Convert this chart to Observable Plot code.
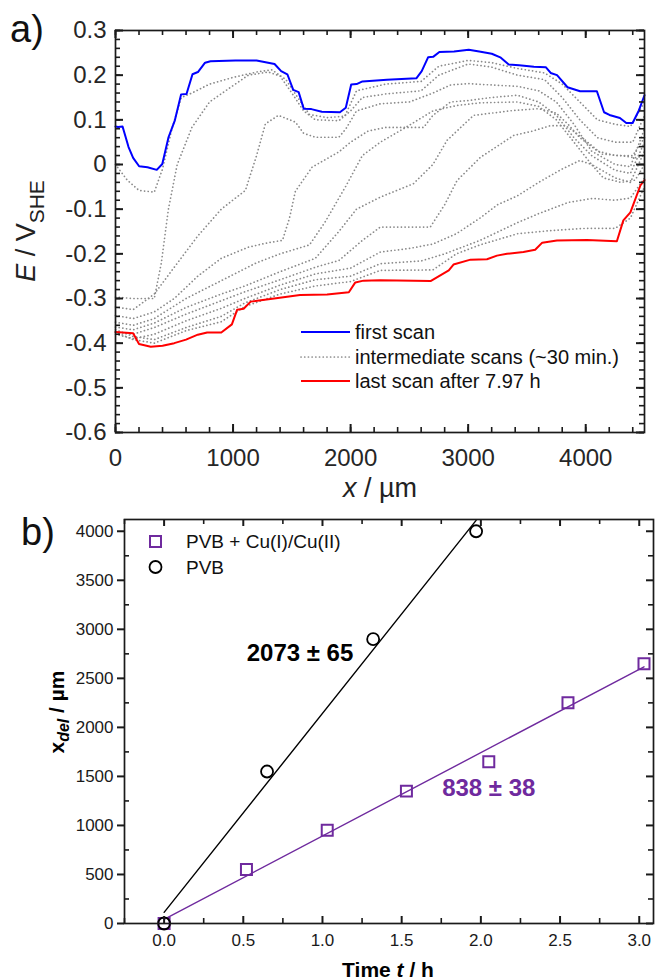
<!DOCTYPE html>
<html><head><meta charset="utf-8">
<script src="https://cdn.jsdelivr.net/npm/d3@7"></script>
<script src="https://cdn.jsdelivr.net/npm/@observablehq/plot@0.6"></script>
<style>
html,body{margin:0;padding:0;background:#fff;overflow:hidden}
#wrap{position:relative;width:655px;height:980px;overflow:hidden;background:#fff}
</style></head>
<body><div id="wrap"></div>
<script>
// ---------- Panel a data: x (µm), E (V vs SHE) ----------
const firstScan = [[0,0.085],[22,0.084],[60,0.085],[111,0.039],[150,0.015],[201,-0.004],[272,-0.006],[351,-0.012],[398,0.001],[451,0.061],[505,0.099],[558,0.157],[604,0.158],[655,0.202],[701,0.207],[762,0.228],[808,0.231],[1020,0.233],[1200,0.233],[1353,0.225],[1409,0.209],[1462,0.202],[1512,0.167],[1558,0.162],[1601,0.125],[1666,0.124],[1755,0.118],[1909,0.117],[1959,0.127],[2005,0.179],[2051,0.18],[2101,0.186],[2309,0.19],[2559,0.193],[2605,0.209],[2659,0.24],[2702,0.241],[2755,0.252],[2880,0.253],[3005,0.257],[3094,0.253],[3201,0.248],[3273,0.24],[3345,0.224],[3434,0.222],[3559,0.219],[3660,0.218],[3702,0.205],[3756,0.2],[3845,0.173],[3952,0.164],[4095,0.164],[4156,0.117],[4202,0.111],[4291,0.104],[4345,0.093],[4399,0.093],[4452,0.121],[4500,0.155]];

const lastScan = [[0,-0.375],[150,-0.378],[200,-0.402],[300,-0.408],[400,-0.406],[500,-0.4],[600,-0.392],[700,-0.381],[780,-0.376],[900,-0.376],[990,-0.358],[1035,-0.325],[1090,-0.323],[1150,-0.307],[1205,-0.305],[1350,-0.3],[1570,-0.292],[1800,-0.291],[1985,-0.286],[2040,-0.264],[2110,-0.26],[2250,-0.259],[2680,-0.261],[2835,-0.237],[2875,-0.224],[3020,-0.213],[3160,-0.212],[3245,-0.204],[3330,-0.2],[3470,-0.196],[3570,-0.191],[3630,-0.175],[3755,-0.17],[4010,-0.169],[4265,-0.172],[4320,-0.125],[4380,-0.107],[4465,-0.047],[4500,-0.035]];

const scan2 = [[0,0.0],[100,-0.035],[200,-0.058],[330,-0.062],[400,-0.01],[480,0.08],[560,0.15],[650,0.16],[800,0.18],[1000,0.195],[1200,0.207],[1330,0.212],[1450,0.19],[1550,0.15],[1650,0.112],[1800,0.105],[1950,0.108],[2050,0.165],[2300,0.18],[2600,0.186],[2750,0.22],[3000,0.233],[3200,0.228],[3420,0.215],[3650,0.205],[3800,0.18],[3950,0.14],[4100,0.1],[4250,0.09],[4380,0.085],[4500,0.14]];
const scan3 = [[0,-0.297],[150,-0.3],[330,-0.3],[390,-0.22],[450,-0.1],[525,0.0],[650,0.083],[800,0.14],[980,0.173],[1130,0.2],[1300,0.207],[1400,0.198],[1500,0.16],[1600,0.12],[1700,0.1],[1900,0.098],[2000,0.12],[2100,0.15],[2300,0.158],[2600,0.165],[2750,0.2],[3000,0.225],[3200,0.218],[3420,0.2],[3650,0.19],[3800,0.15],[3950,0.1],[4100,0.06],[4250,0.05],[4400,0.05],[4500,0.11]];
const scan4 = [[0,-0.319],[150,-0.325],[330,-0.29],[500,-0.23],[700,-0.16],[900,-0.1],[1105,-0.058],[1200,0.02],[1275,0.091],[1386,0.11],[1530,0.095],[1600,0.07],[1700,0.061],[1900,0.061],[1960,0.08],[2050,0.12],[2253,0.136],[2500,0.14],[2700,0.16],[2850,0.178],[3000,0.181],[3200,0.178],[3420,0.175],[3600,0.165],[3750,0.14],[3900,0.09],[4050,0.03],[4250,0.0],[4380,-0.005],[4500,0.08]];
const scan5 = [[0,-0.338],[150,-0.345],[330,-0.33],[500,-0.3],[700,-0.25],[900,-0.21],[1131,-0.185],[1300,-0.175],[1420,-0.17],[1480,-0.12],[1530,-0.06],[1672,-0.006],[1899,0.028],[2000,0.05],[2150,0.075],[2296,0.083],[2450,0.083],[2621,0.083],[2700,0.11],[2850,0.14],[3000,0.143],[3200,0.15],[3420,0.155],[3600,0.14],[3750,0.11],[3900,0.06],[4050,0.02],[4250,-0.013],[4380,-0.02],[4500,0.05]];
const scan6 = [[0,-0.353],[150,-0.36],[330,-0.345],[600,-0.3],[900,-0.26],[1200,-0.22],[1400,-0.2],[1650,-0.18],[1780,-0.13],[1956,-0.05],[2100,0.02],[2253,0.05],[2450,0.08],[2700,0.12],[2900,0.132],[3100,0.138],[3420,0.14],[3600,0.13],[3750,0.1],[3900,0.05],[4050,0.0],[4250,-0.03],[4380,-0.04],[4500,0.03]];
const scan7 = [[0,-0.364],[150,-0.37],[330,-0.355],[600,-0.32],[900,-0.29],[1100,-0.272],[1400,-0.24],[1700,-0.21],[1900,-0.15],[2050,-0.1],[2253,-0.073],[2534,-0.043],[2700,0.0],[2820,0.054],[3046,0.11],[3387,0.121],[3600,0.125],[3750,0.115],[3850,0.09],[3950,0.06],[4100,0.03],[4250,0.02],[4400,0.02],[4500,0.06]];
const scan8 = [[0,-0.375],[150,-0.38],[330,-0.365],[600,-0.335],[900,-0.305],[1100,-0.285],[1400,-0.258],[1700,-0.23],[1900,-0.215],[2100,-0.17],[2253,-0.14],[2678,-0.14],[2800,-0.09],[2905,-0.036],[3104,0.016],[3387,0.065],[3550,0.075],[3700,0.087],[3830,0.087],[3970,0.06],[4140,0.023],[4300,0.02],[4420,0.015],[4500,0.02]];
const scan9 = [[0,-0.38],[150,-0.39],[330,-0.38],[600,-0.35],[900,-0.322],[1100,-0.3],[1400,-0.27],[1700,-0.245],[2000,-0.232],[2253,-0.196],[2500,-0.188],[2700,-0.178],[2900,-0.155],[3100,-0.12],[3250,-0.09],[3420,-0.07],[3600,-0.04],[3800,-0.01],[3950,0.009],[4050,0.0],[4150,-0.03],[4300,-0.04],[4420,-0.035],[4500,0.0]];
const scan10 = [[0,-0.37],[150,-0.385],[330,-0.392],[600,-0.365],[900,-0.34],[1100,-0.31],[1400,-0.28],[1700,-0.258],[2000,-0.25],[2253,-0.222],[2600,-0.216],[2800,-0.2],[3100,-0.17],[3420,-0.13],[3600,-0.11],[3850,-0.085],[4056,-0.076],[4250,-0.08],[4380,-0.075],[4500,-0.03]];
const scan11 = [[0,-0.375],[150,-0.392],[330,-0.4],[600,-0.372],[900,-0.352],[1100,-0.318],[1400,-0.29],[1700,-0.272],[2000,-0.262],[2253,-0.237],[2700,-0.236],[2900,-0.2],[3100,-0.18],[3420,-0.155],[3700,-0.148],[4000,-0.143],[4250,-0.143],[4380,-0.12],[4500,-0.05]];
const intermediateScans = [scan2, scan3, scan4, scan5, scan6, scan7, scan8, scan9, scan10, scan11];

const xTicksA = [0, 1000, 2000, 3000, 4000];
const xMinorA = d3.range(0, 4501, 200);
const yTicksA = [-0.6, -0.5, -0.4, -0.3, -0.2, -0.1, 0, 0.1, 0.2, 0.3];
const yMinorA = d3.range(-0.6, 0.3001, 0.02);
const legendA = ["first scan", "intermediate scans (~30 min.)", "last scan after 7.97 h"];

// ---------- Panel b data: time t (h), delamination x_del (µm) ----------
const timePVB = [0, 0.65, 1.32, 1.97];
const xdelPVB = [0, 1550, 2900, 4000];
const timeCu = [0, 0.52, 1.03, 1.53, 2.05, 2.55, 3.03];
const xdelCu = [0, 550, 950, 1350, 1650, 2250, 2650];
const rateLabels = ["2073 ± 65", "838 ± 38"];
const rateLabelT = [0.858, 2.05];
const rateLabelX = [2758, 1380];
const xTicksB = [0, 0.5, 1, 1.5, 2, 2.5, 3];
const xMinorB = [-0.25, 0.25, 0.75, 1.25, 1.75, 2.25, 2.75];
const yTicksB = d3.range(0, 4001, 500);
const yMinorB = d3.range(250, 4001, 500);
const legendB = ["PVB + Cu(I)/Cu(II)", "PVB"];

const PURPLE = "#6f2a9e";
const FONT = "'Liberation Sans', Arial, Helvetica, sans-serif";
const minusFmt = d => d === 0 ? "0" : (d < 0 ? "-" : "") + Math.abs(d).toFixed(1);

const toRows = (arr, name) => arr.map(([x, E]) => ({x, E, scan: name}));
const intermRows = intermediateScans.flatMap((s, i) => toRows(s, "s" + i));
const firstRows = toRows(firstScan, "first");
const lastRows = toRows(lastScan, "last");

const AX = "#1a1a1a";

// tick helpers (short rules hugging the frame)
function ticksX(values, len, fh, side, outward = false, w = 2) {
  const o = {x: d => d, stroke: AX, strokeWidth: w};
  if (side === "bottom") { o.insetTop = fh - len; if (outward) o.dy = len; }
  else { o.insetBottom = fh - len; if (outward) o.dy = -len; }
  return Plot.ruleX(values, o);
}
function ticksY(values, len, fw, side, outward = false, w = 2) {
  const o = {y: d => d, stroke: AX, strokeWidth: w};
  if (side === "left") { o.insetRight = fw - len; if (outward) o.dx = -len; }
  else { o.insetLeft = fw - len; if (outward) o.dx = len; }
  return Plot.ruleY(values, o);
}

const A = {w: 655, h: 505, ml: 115, mr: 11, mt: 30, mb: 73};
const fwA = A.w - A.ml - A.mr, fhA = A.h - A.mt - A.mb;

const plotA = Plot.plot({
  width: A.w, height: A.h,
  marginLeft: A.ml, marginRight: A.mr, marginTop: A.mt, marginBottom: A.mb,
  x: {domain: [0, 4500], axis: null},
  y: {domain: [-0.6, 0.3], axis: null},
  style: {fontFamily: FONT, fontSize: "24px", color: "#262626", background: "transparent", overflow: "visible"},
  marks: [
    Plot.line(intermRows, {x: "x", y: "E", z: "scan", stroke: "#8a8a8a", strokeWidth: 1.7, strokeDasharray: "0.1 3.6", strokeLinecap: "round"}),
    Plot.line(lastRows, {x: "x", y: "E", stroke: "#ff0000", strokeWidth: 2}),
    Plot.line(firstRows, {x: "x", y: "E", stroke: "#0000ff", strokeWidth: 2}),
    ticksX(xTicksA, 8, fhA, "bottom"), ticksX(xMinorA, 5, fhA, "bottom", false, 1.6),
    ticksX(xTicksA, 8, fhA, "top"), ticksX(xMinorA, 5, fhA, "top", false, 1.6),
    ticksY(yTicksA, 8, fwA, "left"), ticksY(yMinorA, 5, fwA, "left", false, 1.6),
    ticksY(yTicksA, 8, fwA, "right"), ticksY(yMinorA, 5, fwA, "right", false, 1.6),
    Plot.axisX({anchor: "bottom", ticks: xTicksA, tickSize: 0, tickPadding: 16, tickFormat: d => String(d), label: null}),
    Plot.axisY({anchor: "left", ticks: yTicksA, tickSize: 0, tickPadding: 9, tickFormat: minusFmt, label: null}),
    Plot.frame({stroke: AX, strokeWidth: 1.7})
  ]
});

const pvbRows = timePVB.map((t, i) => ({t, x: xdelPVB[i]}));
const cuRows = timeCu.map((t, i) => ({t, x: xdelCu[i]}));
const annRows = rateLabels.map((text, i) => ({text, t: rateLabelT[i], x: rateLabelX[i], c: i === 0 ? "#000" : PURPLE}));

const B = {w: 655, h: 475, ml: 124, mr: 2, mt: 14, mb: 57};
const fwB = B.w - B.ml - B.mr, fhB = B.h - B.mt - B.mb;

const plotB = Plot.plot({
  width: B.w, height: B.h,
  marginLeft: B.ml, marginRight: B.mr, marginTop: B.mt, marginBottom: B.mb,
  x: {domain: [-0.25, 3.09], axis: null},
  y: {domain: [0, 4120], axis: null},
  style: {fontFamily: FONT, fontSize: "17px", color: "#1a1a1a", background: "transparent", overflow: "visible"},
  marks: [
    Plot.linearRegressionY(pvbRows, {x: "t", y: "x", stroke: "#000", strokeWidth: 1.4, ci: 0, clip: true}),
    Plot.linearRegressionY(cuRows, {x: "t", y: "x", stroke: PURPLE, strokeWidth: 1.4, ci: 0}),
    Plot.dot(cuRows, {x: "t", y: "x", symbol: "square", r: 6.2, stroke: PURPLE, strokeWidth: 2, fill: "none"}),
    Plot.dot(pvbRows, {x: "t", y: "x", r: 6, stroke: "#000", strokeWidth: 1.8, fill: "none"}),
    Plot.text(annRows, {x: "t", y: "x", text: "text", fill: "c", fontWeight: "bold", fontSize: 24, fontFamily: FONT}),
    ticksX(xTicksB, 7, fhB, "bottom"), ticksX(xMinorB, 5, fhB, "bottom", false, 1.6),
    ticksX(xTicksB, 7, fhB, "top"), ticksX(xMinorB, 5, fhB, "top", false, 1.6),
    ticksY(yTicksB, 7, fwB, "left", true), ticksY(yMinorB, 5, fwB, "left", false, 1.6),
    ticksY(yTicksB, 7, fwB, "right"), ticksY(yMinorB, 5, fwB, "right", false, 1.6),
    Plot.axisX({anchor: "bottom", ticks: xTicksB, tickSize: 0, tickPadding: 10, tickFormat: d => d.toFixed(1), label: null}),
    Plot.axisY({anchor: "left", ticks: yTicksB, tickSize: 0, tickPadding: 11, tickFormat: d => String(d), label: null}),
    Plot.frame({stroke: AX, strokeWidth: 1.7})
  ]
});

const wrap = document.getElementById("wrap");
function place(el, top) { el.style.position = "absolute"; el.style.left = "0px"; el.style.top = top + "px"; wrap.appendChild(el); }
place(plotA, 0);
place(plotB, 505);

// ---------- overlay: panel letters, axis titles, legends ----------
const ov = d3.select(wrap).append("svg")
  .attr("width", 655).attr("height", 980)
  .style("position", "absolute").style("left", "0px").style("top", "0px")
  .style("pointer-events", "none")
  .attr("font-family", FONT);

ov.append("text").attr("x", 10).attr("y", 42).attr("font-size", 38).attr("fill", "#111").text("a)");
ov.append("text").attr("x", 21).attr("y", 545).attr("font-size", 38).attr("fill", "#111").text("b)");

const tx = ov.append("text").attr("x", 380).attr("y", 497).attr("font-size", 27).attr("text-anchor", "middle").attr("fill", "#222");
tx.append("tspan").attr("font-style", "italic").text("x");
tx.append("tspan").text(" / µm");

const ty = ov.append("text").attr("transform", "translate(35,231) rotate(-90)").attr("font-size", 27).attr("text-anchor", "middle").attr("fill", "#222");
ty.append("tspan").attr("font-style", "italic").text("E");
ty.append("tspan").text(" / V");
ty.append("tspan").attr("font-size", 21).attr("dy", 9).text("SHE");

const bx = ov.append("text").attr("x", 388).attr("y", 977).attr("font-size", 21).attr("font-weight", "bold").attr("text-anchor", "middle").attr("fill", "#000");
bx.append("tspan").text("Time ");
bx.append("tspan").attr("font-style", "italic").text("t");
bx.append("tspan").text(" / h");

const by = ov.append("text").attr("transform", "translate(64,712) rotate(-90)").attr("font-size", 21).attr("font-weight", "bold").attr("text-anchor", "middle").attr("fill", "#000");
by.append("tspan").text("x");
by.append("tspan").attr("font-style", "italic").attr("font-size", 16).attr("dy", 5).text("del");
by.append("tspan").attr("dy", -5).text(" / µm");

const legA = [
  {y: 332, stroke: "#0000ff", dash: null},
  {y: 357, stroke: "#8a8a8a", dash: "0.1 3.6"},
  {y: 381, stroke: "#ff0000", dash: null}
];
legA.forEach((d, i) => {
  const l = ov.append("line").attr("x1", 301).attr("x2", 350).attr("y1", d.y).attr("y2", d.y)
    .attr("stroke", d.stroke).attr("stroke-width", d.dash ? 1.7 : 2);
  if (d.dash) l.attr("stroke-dasharray", d.dash).attr("stroke-linecap", "round");
  ov.append("text").attr("x", 355).attr("y", d.y + 7).attr("font-size", 20).attr("fill", "#111").text(legendA[i]);
});

ov.append("rect").attr("x", 150).attr("y", 536).attr("width", 11).attr("height", 11)
  .attr("fill", "none").attr("stroke", PURPLE).attr("stroke-width", 2);
ov.append("text").attr("x", 186).attr("y", 548).attr("font-size", 19).attr("fill", "#111").text(legendB[0]);
ov.append("circle").attr("cx", 155.5).attr("cy", 567).attr("r", 6)
  .attr("fill", "none").attr("stroke", "#000").attr("stroke-width", 1.8);
ov.append("text").attr("x", 186).attr("y", 574).attr("font-size", 19).attr("fill", "#111").text(legendB[1]);
</script>
</body></html>
